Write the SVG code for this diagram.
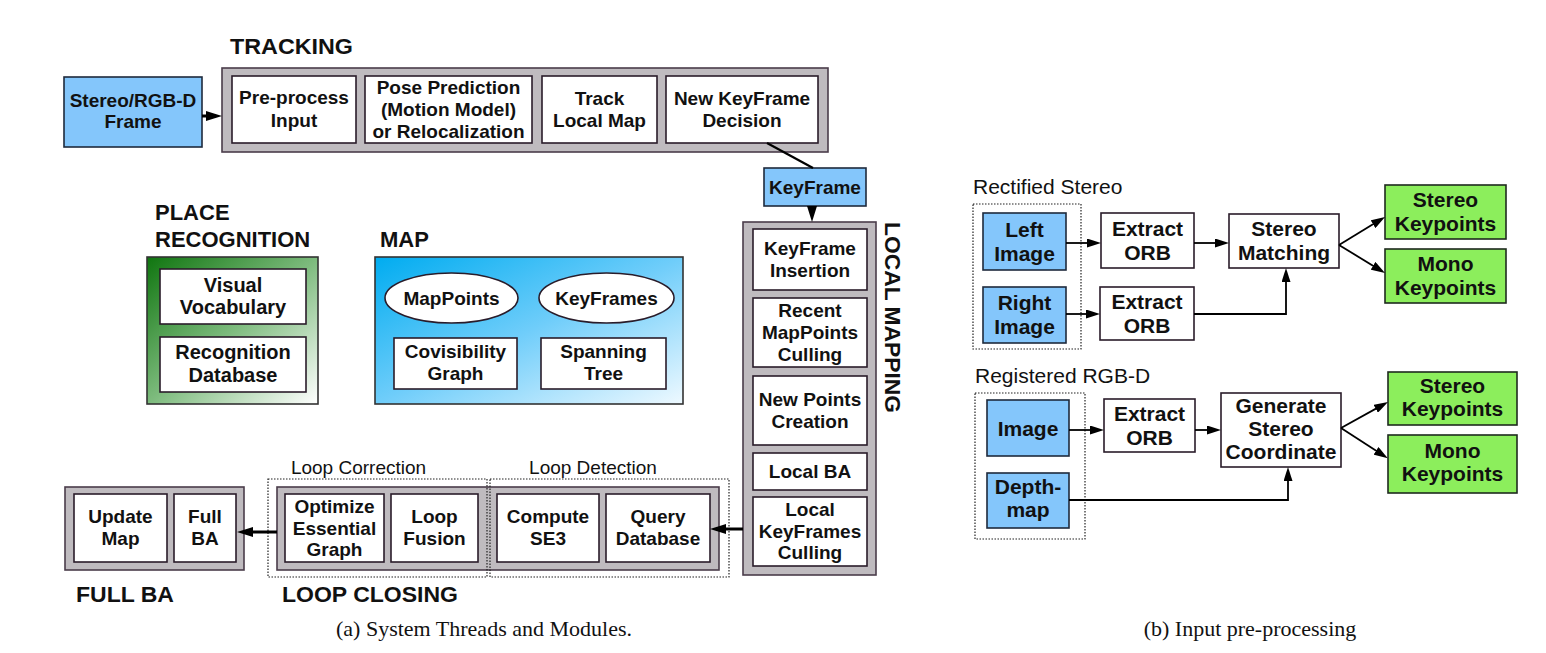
<svg xmlns="http://www.w3.org/2000/svg" width="1546" height="653" viewBox="0 0 1546 653">
<style>
text{font-family:"Liberation Sans",Arial,sans-serif;fill:#111}
.t{font-weight:bold;font-size:19px;text-anchor:middle}
.tp{font-weight:bold;font-size:20px;text-anchor:middle}
.tb{font-weight:bold;font-size:21px;text-anchor:middle}
.lbl{font-weight:bold;font-size:22px}
.sub{font-size:19px;text-anchor:middle}
.sub2{font-size:21px}
.cap{font-family:"Liberation Serif","Times New Roman",serif;font-size:22px;text-anchor:middle}
.box{fill:#fff;stroke:#2a1c2a;stroke-width:1.6}
.gray{fill:#bfbbbf;stroke:#4a3c4a;stroke-width:1.6}
.blue{fill:#84c6fb;stroke:#1e2a3c;stroke-width:1.6}
.green{fill:#8cee5c;stroke:#1e2a1e;stroke-width:1.6}
.dot{fill:none;stroke:#222;stroke-width:1.2;stroke-dasharray:1.5 1.5}
.c3{stroke:#000;stroke-width:3;fill:none}
.c2{stroke:#000;stroke-width:2.2;fill:none}
.cb{stroke:#000;stroke-width:1.8;fill:none}
</style>
<defs>
<linearGradient id="gGreen" x1="0" y1="0" x2="1" y2="1">
<stop offset="0" stop-color="#0f750f"/>
<stop offset="0.5" stop-color="#7dbb7d"/>
<stop offset="1" stop-color="#ffffff"/>
</linearGradient>
<linearGradient id="gBlue" x1="0" y1="0" x2="1" y2="1">
<stop offset="0" stop-color="#00acf0"/>
<stop offset="0.5" stop-color="#6fcdfa"/>
<stop offset="1" stop-color="#eef9ff"/>
</linearGradient>
<marker id="ahA" viewBox="0 0 16 10" refX="10" refY="5" markerWidth="16" markerHeight="10" markerUnits="userSpaceOnUse" orient="auto"><path d="M0,0 L16,5 L0,10 z" fill="#000"/></marker>
<marker id="ahB" viewBox="0 0 14 9" refX="8" refY="4.5" markerWidth="14" markerHeight="9" markerUnits="userSpaceOnUse" orient="auto"><path d="M0,0 L14,4.5 L0,9 z" fill="#000"/></marker>
</defs>

<!-- (a) System threads -->
<text class="lbl" x="230" y="54" textLength="123" lengthAdjust="spacingAndGlyphs">TRACKING</text>

<g id="stereo-rgbd-frame">
<rect class="blue" x="64" y="77" width="138" height="70"/>
<text class="t" x="133" y="107">Stereo/RGB-D</text>
<text class="t" x="133" y="128">Frame</text>
</g>

<g id="tracking">
<rect class="gray" x="222" y="68" width="606" height="84"/>
</g>
<g id="preprocess-input">
<rect class="box" x="232" y="76" width="124" height="67"/>
<text class="t" x="294" y="104">Pre-process</text>
<text class="t" x="294" y="127">Input</text>
</g>
<g id="pose-prediction">
<rect class="box" x="365" y="76" width="167" height="67"/>
<text class="t" x="448.5" y="94">Pose Prediction</text>
<text class="t" x="448.5" y="116">(Motion Model)</text>
<text class="t" x="448.5" y="138">or Relocalization</text>
</g>
<g id="track-local-map">
<rect class="box" x="542" y="76" width="115" height="67"/>
<text class="t" x="599.5" y="105">Track</text>
<text class="t" x="599.5" y="127">Local Map</text>
</g>
<g id="new-keyframe-decision">
<rect class="box" x="666" y="76" width="152" height="67"/>
<text class="t" x="742" y="105">New KeyFrame</text>
<text class="t" x="742" y="127">Decision</text>
</g>

<g id="keyframe">
<rect class="blue" x="764" y="168" width="102" height="38"/>
<text class="t" x="815" y="194">KeyFrame</text>
</g>

<g id="local-mapping">
<rect class="gray" x="743" y="222" width="133" height="353"/>
<text class="lbl" transform="translate(885,222) rotate(90)" textLength="191" lengthAdjust="spacingAndGlyphs">LOCAL MAPPING</text>
</g>
<g id="keyframe-insertion">
<rect class="box" x="753" y="229" width="114" height="61"/>
<text class="t" x="810" y="255">KeyFrame</text>
<text class="t" x="810" y="277">Insertion</text>
</g>
<g id="recent-mappoints-culling">
<rect class="box" x="753" y="298" width="114" height="69"/>
<text class="t" x="810" y="317">Recent</text>
<text class="t" x="810" y="339">MapPoints</text>
<text class="t" x="810" y="361">Culling</text>
</g>
<g id="new-points-creation">
<rect class="box" x="753" y="376" width="114" height="69"/>
<text class="t" x="810" y="406">New Points</text>
<text class="t" x="810" y="428">Creation</text>
</g>
<g id="local-ba">
<rect class="box" x="753" y="453" width="114" height="37"/>
<text class="t" x="810" y="478">Local BA</text>
</g>
<g id="local-keyframes-culling">
<rect class="box" x="753" y="497" width="114" height="69"/>
<text class="t" x="810" y="516">Local</text>
<text class="t" x="810" y="538">KeyFrames</text>
<text class="t" x="810" y="559">Culling</text>
</g>

<text class="lbl" x="155" y="220">PLACE</text>
<text class="lbl" x="155" y="247">RECOGNITION</text>
<g id="place-recognition">
<rect x="147" y="257" width="171" height="147" fill="url(#gGreen)" stroke="#333" stroke-width="1.6"/>
</g>
<g id="visual-vocabulary">
<rect class="box" x="160" y="269" width="146" height="55"/>
<text class="tp" x="233" y="292">Visual</text>
<text class="tp" x="233" y="314">Vocabulary</text>
</g>
<g id="recognition-database">
<rect class="box" x="160" y="337" width="146" height="55"/>
<text class="tp" x="233" y="359">Recognition</text>
<text class="tp" x="233" y="382">Database</text>
</g>

<text class="lbl" x="380" y="247">MAP</text>
<g id="map">
<rect x="375" y="257" width="308" height="147" fill="url(#gBlue)" stroke="#333" stroke-width="1.6"/>
</g>
<g id="mappoints">
<ellipse class="box" cx="451.5" cy="298" rx="66.5" ry="25"/>
<text class="t" x="451.5" y="305">MapPoints</text>
</g>
<g id="keyframes">
<ellipse class="box" cx="606.5" cy="298" rx="67.5" ry="25"/>
<text class="t" x="606.5" y="305">KeyFrames</text>
</g>
<g id="covisibility-graph">
<rect class="box" x="394" y="338" width="123" height="51"/>
<text class="t" x="455.5" y="358">Covisibility</text>
<text class="t" x="455.5" y="380">Graph</text>
</g>
<g id="spanning-tree">
<rect class="box" x="541" y="338" width="125" height="51"/>
<text class="t" x="603.5" y="358">Spanning</text>
<text class="t" x="603.5" y="380">Tree</text>
</g>

<g id="full-ba-thread">
<rect class="gray" x="65" y="487" width="179" height="83"/>
<text class="lbl" x="76" y="602" textLength="98" lengthAdjust="spacingAndGlyphs">FULL BA</text>
</g>
<g id="update-map">
<rect class="box" x="74" y="494" width="93" height="68"/>
<text class="t" x="120.5" y="523">Update</text>
<text class="t" x="120.5" y="545">Map</text>
</g>
<g id="full-ba">
<rect class="box" x="174" y="494" width="62" height="68"/>
<text class="t" x="205" y="523">Full</text>
<text class="t" x="205" y="545">BA</text>
</g>

<g id="loop-closing">
<rect class="gray" x="277" y="487" width="442" height="83"/>
<text class="lbl" x="282" y="602" textLength="176" lengthAdjust="spacingAndGlyphs">LOOP CLOSING</text>
</g>
<g id="loop-correction">
<rect class="dot" x="268" y="479" width="219" height="98"/>
<text class="sub" x="358.5" y="474">Loop Correction</text>
</g>
<g id="loop-detection">
<rect class="dot" x="490" y="479" width="239" height="98"/>
<text class="sub" x="593" y="474">Loop Detection</text>
</g>
<g id="optimize-essential-graph">
<rect class="box" x="285" y="494" width="99" height="68"/>
<text class="t" x="334.5" y="513">Optimize</text>
<text class="t" x="334.5" y="535">Essential</text>
<text class="t" x="334.5" y="556">Graph</text>
</g>
<g id="loop-fusion">
<rect class="box" x="391" y="494" width="87" height="68"/>
<text class="t" x="434.5" y="523">Loop</text>
<text class="t" x="434.5" y="545">Fusion</text>
</g>
<g id="compute-se3">
<rect class="box" x="497" y="494" width="102" height="68"/>
<text class="t" x="548" y="523">Compute</text>
<text class="t" x="548" y="545">SE3</text>
</g>
<g id="query-database">
<rect class="box" x="606" y="494" width="104" height="68"/>
<text class="t" x="658" y="523">Query</text>
<text class="t" x="658" y="545">Database</text>
</g>

<!-- (b) Input pre-processing -->
<text class="sub2" x="973" y="194">Rectified Stereo</text>
<rect class="dot" x="973" y="204" width="108" height="145"/>
<g id="left-image">
<rect class="blue" x="983" y="213" width="83" height="57"/>
<text class="tb" x="1024.5" y="237">Left</text>
<text class="tb" x="1024.5" y="261">Image</text>
</g>
<g id="right-image">
<rect class="blue" x="983" y="287" width="83" height="56"/>
<text class="tb" x="1024.5" y="310">Right</text>
<text class="tb" x="1024.5" y="334">Image</text>
</g>
<g id="extract-orb-left">
<rect class="box" x="1101" y="213" width="93" height="55"/>
<text class="tb" x="1147.5" y="236">Extract</text>
<text class="tb" x="1147.5" y="260">ORB</text>
</g>
<g id="extract-orb-right">
<rect class="box" x="1100" y="287" width="94" height="53"/>
<text class="tb" x="1147" y="309">Extract</text>
<text class="tb" x="1147" y="333">ORB</text>
</g>
<g id="stereo-matching">
<rect class="box" x="1229" y="214" width="110" height="54"/>
<text class="tb" x="1284" y="236">Stereo</text>
<text class="tb" x="1284" y="260">Matching</text>
</g>
<g id="stereo-keypoints-1">
<rect class="green" x="1385" y="185" width="121" height="54"/>
<text class="tb" x="1445.5" y="207">Stereo</text>
<text class="tb" x="1445.5" y="231">Keypoints</text>
</g>
<g id="mono-keypoints-1">
<rect class="green" x="1385" y="249" width="121" height="54"/>
<text class="tb" x="1445.5" y="271">Mono</text>
<text class="tb" x="1445.5" y="295">Keypoints</text>
</g>

<text class="sub2" x="975" y="383">Registered RGB-D</text>
<rect class="dot" x="975" y="393" width="110" height="146"/>
<g id="image">
<rect class="blue" x="987" y="400" width="82" height="56"/>
<text class="tb" x="1028" y="436">Image</text>
</g>
<g id="depth-map">
<rect class="blue" x="987" y="473" width="82" height="55"/>
<text class="tb" x="1028" y="494">Depth-</text>
<text class="tb" x="1028" y="517">map</text>
</g>
<g id="extract-orb-rgbd">
<rect class="box" x="1104" y="399" width="91" height="53"/>
<text class="tb" x="1149.5" y="421">Extract</text>
<text class="tb" x="1149.5" y="445">ORB</text>
</g>
<g id="generate-stereo-coordinate">
<rect class="box" x="1221" y="393" width="120" height="74"/>
<text class="tb" x="1281" y="413">Generate</text>
<text class="tb" x="1281" y="436">Stereo</text>
<text class="tb" x="1281" y="459">Coordinate</text>
</g>
<g id="stereo-keypoints-2">
<rect class="green" x="1388" y="372" width="129" height="53"/>
<text class="tb" x="1452.5" y="393">Stereo</text>
<text class="tb" x="1452.5" y="416">Keypoints</text>
</g>
<g id="mono-keypoints-2">
<rect class="green" x="1388" y="435" width="129" height="58"/>
<text class="tb" x="1452.5" y="458">Mono</text>
<text class="tb" x="1452.5" y="481">Keypoints</text>
</g>

<g id="connectors">
<line class="c3" x1="202" y1="116" x2="216" y2="116" marker-end="url(#ahA)"/>
<line class="c2" x1="767" y1="143" x2="813" y2="168"/>
<line class="c2" x1="812" y1="206" x2="812" y2="216" marker-end="url(#ahA)"/>
<line class="c3" x1="743" y1="529" x2="716" y2="529" marker-end="url(#ahA)"/>
<line class="c3" x1="277" y1="532" x2="243" y2="532" marker-end="url(#ahA)"/>

<line class="cb" x1="1066" y1="243" x2="1095" y2="243" marker-end="url(#ahB)"/>
<line class="cb" x1="1194" y1="243" x2="1223" y2="243" marker-end="url(#ahB)"/>
<polyline class="cb" points="1194,314 1286,314 1286,274" marker-end="url(#ahB)"/>
<line class="cb" x1="1339" y1="245" x2="1379.9" y2="220.1" marker-end="url(#ahB)"/>
<line class="cb" x1="1339" y1="245" x2="1379.9" y2="269.9" marker-end="url(#ahB)"/>
<line class="cb" x1="1066" y1="314" x2="1094" y2="314" marker-end="url(#ahB)"/>

<line class="cb" x1="1069" y1="430" x2="1098" y2="430" marker-end="url(#ahB)"/>
<line class="cb" x1="1195" y1="430" x2="1215" y2="430" marker-end="url(#ahB)"/>
<polyline class="cb" points="1069,500 1288,500 1288,473" marker-end="url(#ahB)"/>
<line class="cb" x1="1341" y1="428" x2="1382.75" y2="404.9" marker-end="url(#ahB)"/>
<line class="cb" x1="1341" y1="428" x2="1382.75" y2="455.1" marker-end="url(#ahB)"/>
</g>

<text class="cap" x="484" y="636">(a) System Threads and Modules.</text>
<text class="cap" x="1250" y="636">(b) Input pre-processing</text>
</svg>
